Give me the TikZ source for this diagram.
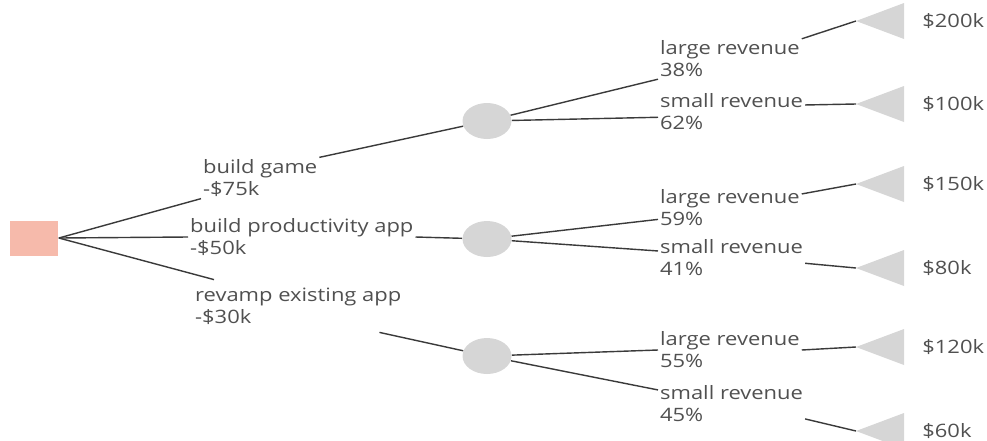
\documentclass[tikz,border=0pt]{standalone}
\usepackage{fontspec}
\setmainfont{Open Sans}[FakeStretch=1.19]
\usetikzlibrary{shapes.geometric}
\definecolor{boxred}{HTML}{F6BAAB}
\definecolor{shapegray}{HTML}{D6D6D6}
\definecolor{linegray}{HTML}{3A3A3A}
\definecolor{txtgray}{HTML}{505050}
\tikzset{
	choice/.style={fill=boxred, minimum width=0.98cm, minimum height=0.7cm, inner sep=0pt},
	chance/.style={ellipse, fill=shapegray, minimum width=0.98cm, minimum height=0.72cm, inner sep=0pt},
	lbl/.style={anchor=west, align=left, inner sep=1pt, text=txtgray, font=\fontsize{10.5}{12.5}\selectfont},
	val/.style={anchor=west, inner sep=0pt, text=txtgray, font=\fontsize{10.5}{12.5}\selectfont},
	branch/.style={draw=linegray, line width=0.8pt},
	payoff/.style={fill=shapegray}
}

\begin{document}
\begin{tikzpicture}[x=0.02cm, y=-0.02cm]
		%%%%% START %%%%%
		\useasboundingbox (0, 0) rectangle (987, 440);
		
		\node[choice] (sq) at (34, 238) {};
		
		\node[chance] (c1) at (487, 121) {};
		\node[chance] (c2) at (487, 239) {};
		\node[chance] (c3) at (487, 356) {};
		
		\node[lbl] (g) at (201, 178) {build game\\-\$75k};
		\node[lbl] (p) at (188, 237) {build productivity app\\-\$50k};
		\node[lbl] (r) at (193, 306) {revamp existing app\\-\$30k};
		
		\node[lbl] (a1) at (658, 59) {large revenue\\38\%};
		\node[lbl] (b1) at (658, 112) {small revenue\\62\%};
		\node[lbl] (a2) at (658, 208) {large revenue\\59\%};
		\node[lbl] (b2) at (658, 258) {small revenue\\41\%};
		\node[lbl] (a3) at (658, 350) {large revenue\\55\%};
		\node[lbl] (b3) at (658, 404) {small revenue\\45\%};
		
		\coordinate (t1) at (856, 21);
		\coordinate (t2) at (856, 104);
		\coordinate (t3) at (856, 184);
		\coordinate (t4) at (856, 268);
		\coordinate (t5) at (856, 347);
		\coordinate (t6) at (856, 431);
		
		\fill[payoff] (t1) -- ++(48, -18) -- ++(0, 36) -- cycle;
		\fill[payoff] (t2) -- ++(48, -18) -- ++(0, 36) -- cycle;
		\fill[payoff] (t3) -- ++(48, -18) -- ++(0, 36) -- cycle;
		\fill[payoff] (t4) -- ++(48, -18) -- ++(0, 36) -- cycle;
		\fill[payoff] (t5) -- ++(48, -18) -- ++(0, 36) -- cycle;
		\fill[payoff] (t6) -- ++(48, -18) -- ++(0, 36) -- cycle;
		
		\node[val] (v1) at (922, 21) {\$200k};
		\node[val] (v2) at (922, 104) {\$100k};
		\node[val] (v3) at (922, 184) {\$150k};
		\node[val] (v4) at (922, 268) {\$80k};
		\node[val] (v5) at (922, 347) {\$120k};
		\node[val] (v6) at (922, 431) {\$60k};
		
		% first decision
		\draw[branch] (sq.east) -- (g.south west);
		\draw[branch] (g.north east) -- (c1);
		\draw[branch] (sq.east) -- (p.west);
		\draw[branch] (p.east) -- (c2);
		\draw[branch] (sq.east) -- ([shift={(21,-6)}]r.north west);
		\draw[branch] ([shift={(-24,6)}]r.south east) -- (c3);
		
		% outcomes
		\draw[branch] (c1) -- (a1.south west);
		\draw[branch] (a1.north east) -- (t1);
		\draw[branch] (c1) -- ([yshift=-3pt]b1.west);
		\draw[branch] ([yshift=4pt]b1.east) -- (t2);
		\draw[branch] (c2) -- ([yshift=5pt]a2.south west);
		\draw[branch] ([yshift=8pt]a2.east) -- (t3);
		\draw[branch] (c2) -- ([yshift=4pt]b2.west);
		\draw[branch] ([yshift=-3pt]b2.east) -- (t4);
		\draw[branch] (c3) -- (a3.west);
		\draw[branch] (a3.east) -- (t5);
		\draw[branch] (c3) -- ([yshift=8pt]b3.west);
		\draw[branch] ([yshift=3pt]b3.south east) -- (t6);
		%%%%% END %%%%%
	\end{tikzpicture}
\end{document}
